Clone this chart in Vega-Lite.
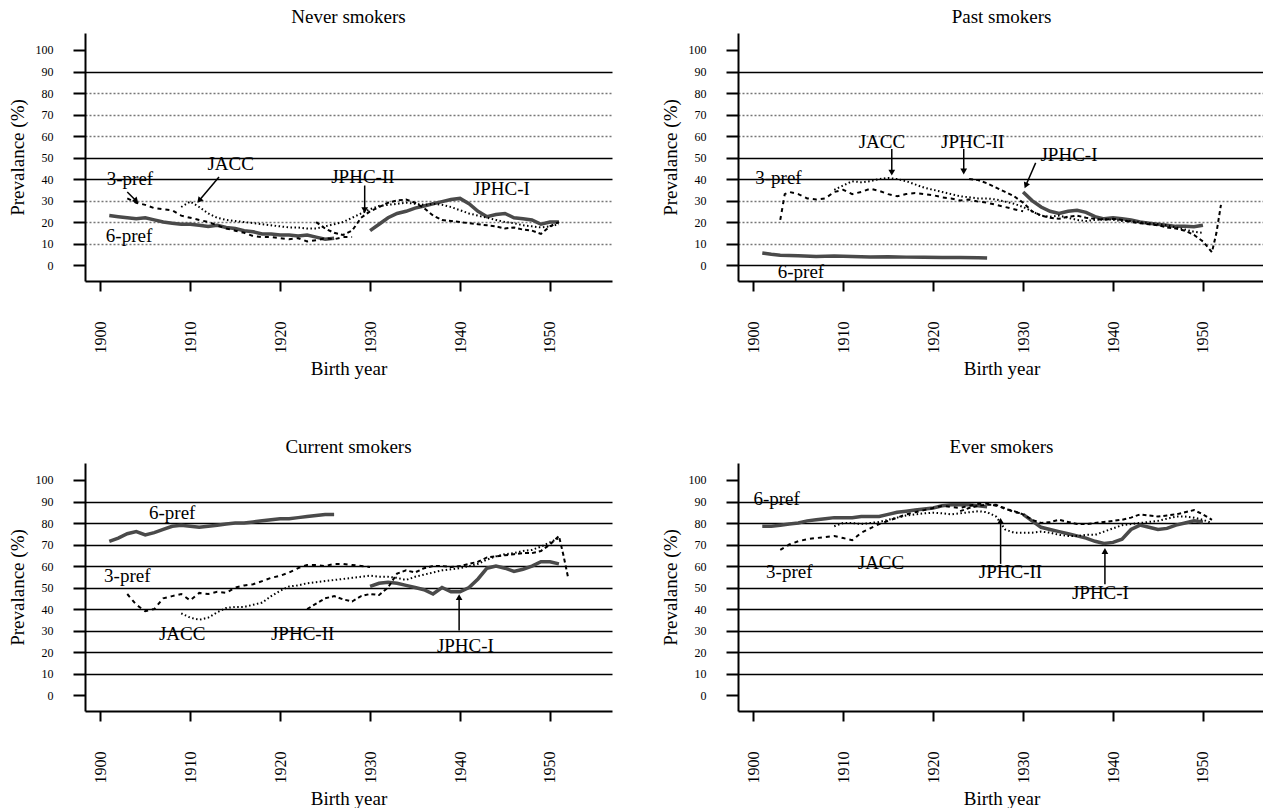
{
"$schema": "https://vega.github.io/schema/vega-lite/v6.json",
"padding": {"left": 8, "top": 8, "right": 0, "bottom": 0},
"background": "white",
"config": {
  "view": {"stroke": null},
  "axis": {"domainColor": "black", "domainWidth": 2, "tickColor": "black", "tickWidth": 2, "labelColor": "black", "titleColor": "black", "labelFont": "Liberation Serif", "titleFont": "Liberation Serif", "titleFontWeight": "normal"},
  "axisX": {"grid": false, "tickSize": 10, "labelAngle": 270, "labelFontSize": 16, "labelPadding": 30, "titleFontSize": 19, "titlePadding": 6, "labelFlush": false},
  "axisY": {"tickSize": 12, "labelFontSize": 12, "labelPadding": 20, "titleFontSize": 19, "titlePadding": 8, "grid": true, "gridColor": "black", "gridWidth": 1.3},
  "title": {"font": "Liberation Serif", "fontSize": 19, "fontWeight": "normal", "color": "black", "anchor": "middle", "offset": 6},
  "text": {"font": "Liberation Serif", "fontSize": 19, "color": "black"}
},
"datasets": {
"series": [
{"p":"N","s":"6-pref","x":1901,"y":23},{"p":"N","s":"6-pref","x":1902,"y":22.5},{"p":"N","s":"6-pref","x":1903,"y":22},{"p":"N","s":"6-pref","x":1904,"y":21.5},{"p":"N","s":"6-pref","x":1905,"y":22},{"p":"N","s":"6-pref","x":1906,"y":21},{"p":"N","s":"6-pref","x":1907,"y":20},{"p":"N","s":"6-pref","x":1908,"y":19.5},{"p":"N","s":"6-pref","x":1909,"y":19},{"p":"N","s":"6-pref","x":1910,"y":19},{"p":"N","s":"6-pref","x":1911,"y":18.5},{"p":"N","s":"6-pref","x":1912,"y":18},{"p":"N","s":"6-pref","x":1913,"y":18.5},{"p":"N","s":"6-pref","x":1914,"y":17.5},{"p":"N","s":"6-pref","x":1915,"y":17},{"p":"N","s":"6-pref","x":1916,"y":16},{"p":"N","s":"6-pref","x":1917,"y":15.5},{"p":"N","s":"6-pref","x":1918,"y":14.5},{"p":"N","s":"6-pref","x":1919,"y":14.5},{"p":"N","s":"6-pref","x":1920,"y":14},{"p":"N","s":"6-pref","x":1921,"y":14},{"p":"N","s":"6-pref","x":1922,"y":13.5},{"p":"N","s":"6-pref","x":1923,"y":14},{"p":"N","s":"6-pref","x":1924,"y":13},{"p":"N","s":"6-pref","x":1925,"y":12},{"p":"N","s":"6-pref","x":1926,"y":12.5},
{"p":"N","s":"3-pref","x":1903,"y":31},{"p":"N","s":"3-pref","x":1904,"y":29},{"p":"N","s":"3-pref","x":1905,"y":28},{"p":"N","s":"3-pref","x":1906,"y":26.5},{"p":"N","s":"3-pref","x":1907,"y":26},{"p":"N","s":"3-pref","x":1908,"y":25.5},{"p":"N","s":"3-pref","x":1909,"y":23},{"p":"N","s":"3-pref","x":1910,"y":22},{"p":"N","s":"3-pref","x":1911,"y":21},{"p":"N","s":"3-pref","x":1912,"y":20},{"p":"N","s":"3-pref","x":1913,"y":18.5},{"p":"N","s":"3-pref","x":1914,"y":17},{"p":"N","s":"3-pref","x":1915,"y":16},{"p":"N","s":"3-pref","x":1916,"y":15},{"p":"N","s":"3-pref","x":1917,"y":13.5},{"p":"N","s":"3-pref","x":1918,"y":13},{"p":"N","s":"3-pref","x":1919,"y":13},{"p":"N","s":"3-pref","x":1920,"y":12.5},{"p":"N","s":"3-pref","x":1921,"y":12},{"p":"N","s":"3-pref","x":1922,"y":12.5},{"p":"N","s":"3-pref","x":1923,"y":11},{"p":"N","s":"3-pref","x":1924,"y":11.5},{"p":"N","s":"3-pref","x":1925,"y":12.5},{"p":"N","s":"3-pref","x":1926,"y":12},{"p":"N","s":"3-pref","x":1927,"y":13},{"p":"N","s":"3-pref","x":1928,"y":13},
{"p":"N","s":"JACC","x":1909,"y":27},{"p":"N","s":"JACC","x":1910,"y":29.5},{"p":"N","s":"JACC","x":1911,"y":27},{"p":"N","s":"JACC","x":1912,"y":24},{"p":"N","s":"JACC","x":1913,"y":22},{"p":"N","s":"JACC","x":1914,"y":21},{"p":"N","s":"JACC","x":1915,"y":20.5},{"p":"N","s":"JACC","x":1916,"y":20},{"p":"N","s":"JACC","x":1917,"y":19.5},{"p":"N","s":"JACC","x":1918,"y":19},{"p":"N","s":"JACC","x":1919,"y":18.5},{"p":"N","s":"JACC","x":1920,"y":18},{"p":"N","s":"JACC","x":1921,"y":17.5},{"p":"N","s":"JACC","x":1922,"y":17.5},{"p":"N","s":"JACC","x":1923,"y":17},{"p":"N","s":"JACC","x":1924,"y":17},{"p":"N","s":"JACC","x":1925,"y":18},{"p":"N","s":"JACC","x":1926,"y":19},{"p":"N","s":"JACC","x":1927,"y":20},{"p":"N","s":"JACC","x":1928,"y":22},{"p":"N","s":"JACC","x":1929,"y":24},{"p":"N","s":"JACC","x":1930,"y":26},{"p":"N","s":"JACC","x":1931,"y":27.5},{"p":"N","s":"JACC","x":1932,"y":28},{"p":"N","s":"JACC","x":1933,"y":28.5},{"p":"N","s":"JACC","x":1934,"y":29},{"p":"N","s":"JACC","x":1935,"y":28.5},{"p":"N","s":"JACC","x":1936,"y":28},{"p":"N","s":"JACC","x":1937,"y":28.5},{"p":"N","s":"JACC","x":1938,"y":28},{"p":"N","s":"JACC","x":1939,"y":27},{"p":"N","s":"JACC","x":1940,"y":25.5},{"p":"N","s":"JACC","x":1941,"y":24},{"p":"N","s":"JACC","x":1942,"y":23},{"p":"N","s":"JACC","x":1943,"y":22},{"p":"N","s":"JACC","x":1944,"y":21},{"p":"N","s":"JACC","x":1945,"y":20},{"p":"N","s":"JACC","x":1946,"y":19.5},{"p":"N","s":"JACC","x":1947,"y":18.5},{"p":"N","s":"JACC","x":1948,"y":18},{"p":"N","s":"JACC","x":1949,"y":17.5},{"p":"N","s":"JACC","x":1950,"y":18},{"p":"N","s":"JACC","x":1951,"y":19},
{"p":"N","s":"JPHC-II","x":1924,"y":20},{"p":"N","s":"JPHC-II","x":1925,"y":17},{"p":"N","s":"JPHC-II","x":1926,"y":15},{"p":"N","s":"JPHC-II","x":1927,"y":14},{"p":"N","s":"JPHC-II","x":1928,"y":16},{"p":"N","s":"JPHC-II","x":1929,"y":22},{"p":"N","s":"JPHC-II","x":1930,"y":25},{"p":"N","s":"JPHC-II","x":1931,"y":27},{"p":"N","s":"JPHC-II","x":1932,"y":29},{"p":"N","s":"JPHC-II","x":1933,"y":30},{"p":"N","s":"JPHC-II","x":1934,"y":30.5},{"p":"N","s":"JPHC-II","x":1935,"y":29},{"p":"N","s":"JPHC-II","x":1936,"y":26.5},{"p":"N","s":"JPHC-II","x":1937,"y":23},{"p":"N","s":"JPHC-II","x":1938,"y":21},{"p":"N","s":"JPHC-II","x":1939,"y":20.5},{"p":"N","s":"JPHC-II","x":1940,"y":20},{"p":"N","s":"JPHC-II","x":1941,"y":19.5},{"p":"N","s":"JPHC-II","x":1942,"y":19},{"p":"N","s":"JPHC-II","x":1943,"y":18.5},{"p":"N","s":"JPHC-II","x":1944,"y":18},{"p":"N","s":"JPHC-II","x":1945,"y":17},{"p":"N","s":"JPHC-II","x":1946,"y":17.5},{"p":"N","s":"JPHC-II","x":1947,"y":16.5},{"p":"N","s":"JPHC-II","x":1948,"y":16},{"p":"N","s":"JPHC-II","x":1949,"y":14.5},{"p":"N","s":"JPHC-II","x":1950,"y":18},{"p":"N","s":"JPHC-II","x":1951,"y":20},
{"p":"N","s":"JPHC-I","x":1930,"y":16},{"p":"N","s":"JPHC-I","x":1931,"y":19},{"p":"N","s":"JPHC-I","x":1932,"y":22},{"p":"N","s":"JPHC-I","x":1933,"y":24},{"p":"N","s":"JPHC-I","x":1934,"y":25},{"p":"N","s":"JPHC-I","x":1935,"y":26.5},{"p":"N","s":"JPHC-I","x":1936,"y":27.5},{"p":"N","s":"JPHC-I","x":1937,"y":28.5},{"p":"N","s":"JPHC-I","x":1938,"y":29.5},{"p":"N","s":"JPHC-I","x":1939,"y":30.5},{"p":"N","s":"JPHC-I","x":1940,"y":31},{"p":"N","s":"JPHC-I","x":1941,"y":28.5},{"p":"N","s":"JPHC-I","x":1942,"y":25},{"p":"N","s":"JPHC-I","x":1943,"y":22.5},{"p":"N","s":"JPHC-I","x":1944,"y":23.5},{"p":"N","s":"JPHC-I","x":1945,"y":24},{"p":"N","s":"JPHC-I","x":1946,"y":22},{"p":"N","s":"JPHC-I","x":1947,"y":21.5},{"p":"N","s":"JPHC-I","x":1948,"y":21},{"p":"N","s":"JPHC-I","x":1949,"y":19},{"p":"N","s":"JPHC-I","x":1950,"y":20},{"p":"N","s":"JPHC-I","x":1951,"y":20},

{"p":"P","s":"6-pref","x":1901,"y":5.6},{"p":"P","s":"6-pref","x":1902,"y":5},{"p":"P","s":"6-pref","x":1903,"y":4.6},{"p":"P","s":"6-pref","x":1904,"y":4.5},{"p":"P","s":"6-pref","x":1905,"y":4.3},{"p":"P","s":"6-pref","x":1907,"y":4},{"p":"P","s":"6-pref","x":1909,"y":4.2},{"p":"P","s":"6-pref","x":1911,"y":4},{"p":"P","s":"6-pref","x":1913,"y":3.8},{"p":"P","s":"6-pref","x":1915,"y":3.9},{"p":"P","s":"6-pref","x":1917,"y":3.7},{"p":"P","s":"6-pref","x":1919,"y":3.6},{"p":"P","s":"6-pref","x":1921,"y":3.5},{"p":"P","s":"6-pref","x":1923,"y":3.5},{"p":"P","s":"6-pref","x":1925,"y":3.4},{"p":"P","s":"6-pref","x":1926,"y":3.3},
{"p":"P","s":"3-pref","x":1903,"y":21},{"p":"P","s":"3-pref","x":1903.5,"y":33},{"p":"P","s":"3-pref","x":1904,"y":34},{"p":"P","s":"3-pref","x":1905,"y":33},{"p":"P","s":"3-pref","x":1906,"y":31},{"p":"P","s":"3-pref","x":1907,"y":30.5},{"p":"P","s":"3-pref","x":1908,"y":31},{"p":"P","s":"3-pref","x":1909,"y":34},{"p":"P","s":"3-pref","x":1910,"y":35},{"p":"P","s":"3-pref","x":1911,"y":33},{"p":"P","s":"3-pref","x":1912,"y":34},{"p":"P","s":"3-pref","x":1913,"y":35.5},{"p":"P","s":"3-pref","x":1914,"y":34.5},{"p":"P","s":"3-pref","x":1915,"y":33},{"p":"P","s":"3-pref","x":1916,"y":32},{"p":"P","s":"3-pref","x":1917,"y":33},{"p":"P","s":"3-pref","x":1918,"y":33.5},{"p":"P","s":"3-pref","x":1919,"y":33},{"p":"P","s":"3-pref","x":1920,"y":32.5},{"p":"P","s":"3-pref","x":1921,"y":31.5},{"p":"P","s":"3-pref","x":1922,"y":31},{"p":"P","s":"3-pref","x":1923,"y":30},{"p":"P","s":"3-pref","x":1924,"y":30.5},{"p":"P","s":"3-pref","x":1925,"y":29.5},{"p":"P","s":"3-pref","x":1926,"y":29},{"p":"P","s":"3-pref","x":1927,"y":28},{"p":"P","s":"3-pref","x":1928,"y":27},{"p":"P","s":"3-pref","x":1929,"y":26},{"p":"P","s":"3-pref","x":1930,"y":25},
{"p":"P","s":"JACC","x":1909,"y":35},{"p":"P","s":"JACC","x":1910,"y":37},{"p":"P","s":"JACC","x":1911,"y":39},{"p":"P","s":"JACC","x":1912,"y":38.5},{"p":"P","s":"JACC","x":1913,"y":39},{"p":"P","s":"JACC","x":1914,"y":40},{"p":"P","s":"JACC","x":1915,"y":40.5},{"p":"P","s":"JACC","x":1916,"y":40},{"p":"P","s":"JACC","x":1917,"y":39},{"p":"P","s":"JACC","x":1918,"y":37.5},{"p":"P","s":"JACC","x":1919,"y":36},{"p":"P","s":"JACC","x":1920,"y":35},{"p":"P","s":"JACC","x":1921,"y":34},{"p":"P","s":"JACC","x":1922,"y":33},{"p":"P","s":"JACC","x":1923,"y":32},{"p":"P","s":"JACC","x":1924,"y":31.5},{"p":"P","s":"JACC","x":1925,"y":31},{"p":"P","s":"JACC","x":1926,"y":31},{"p":"P","s":"JACC","x":1927,"y":30.5},{"p":"P","s":"JACC","x":1928,"y":29.5},{"p":"P","s":"JACC","x":1929,"y":28.5},{"p":"P","s":"JACC","x":1930,"y":27},{"p":"P","s":"JACC","x":1931,"y":25},{"p":"P","s":"JACC","x":1932,"y":23},{"p":"P","s":"JACC","x":1933,"y":22.5},{"p":"P","s":"JACC","x":1934,"y":23},{"p":"P","s":"JACC","x":1935,"y":22},{"p":"P","s":"JACC","x":1936,"y":21},{"p":"P","s":"JACC","x":1937,"y":20.5},{"p":"P","s":"JACC","x":1938,"y":21},{"p":"P","s":"JACC","x":1939,"y":21.5},{"p":"P","s":"JACC","x":1940,"y":21},{"p":"P","s":"JACC","x":1941,"y":20.5},{"p":"P","s":"JACC","x":1942,"y":20.5},{"p":"P","s":"JACC","x":1943,"y":20},{"p":"P","s":"JACC","x":1944,"y":19.5},{"p":"P","s":"JACC","x":1945,"y":19},{"p":"P","s":"JACC","x":1946,"y":18.5},{"p":"P","s":"JACC","x":1947,"y":17.5},{"p":"P","s":"JACC","x":1948,"y":16.5},{"p":"P","s":"JACC","x":1949,"y":15.5},{"p":"P","s":"JACC","x":1950,"y":15},
{"p":"P","s":"JPHC-II","x":1924,"y":40},{"p":"P","s":"JPHC-II","x":1925,"y":39.5},{"p":"P","s":"JPHC-II","x":1926,"y":38},{"p":"P","s":"JPHC-II","x":1927,"y":36},{"p":"P","s":"JPHC-II","x":1928,"y":34},{"p":"P","s":"JPHC-II","x":1929,"y":32},{"p":"P","s":"JPHC-II","x":1930,"y":29},{"p":"P","s":"JPHC-II","x":1931,"y":25},{"p":"P","s":"JPHC-II","x":1932,"y":23},{"p":"P","s":"JPHC-II","x":1933,"y":22},{"p":"P","s":"JPHC-II","x":1934,"y":21.5},{"p":"P","s":"JPHC-II","x":1935,"y":22.5},{"p":"P","s":"JPHC-II","x":1936,"y":23},{"p":"P","s":"JPHC-II","x":1937,"y":22},{"p":"P","s":"JPHC-II","x":1938,"y":21.5},{"p":"P","s":"JPHC-II","x":1939,"y":21},{"p":"P","s":"JPHC-II","x":1940,"y":21.5},{"p":"P","s":"JPHC-II","x":1941,"y":21},{"p":"P","s":"JPHC-II","x":1942,"y":20},{"p":"P","s":"JPHC-II","x":1943,"y":19.5},{"p":"P","s":"JPHC-II","x":1944,"y":19},{"p":"P","s":"JPHC-II","x":1945,"y":18.5},{"p":"P","s":"JPHC-II","x":1946,"y":17.5},{"p":"P","s":"JPHC-II","x":1947,"y":17},{"p":"P","s":"JPHC-II","x":1948,"y":16},{"p":"P","s":"JPHC-II","x":1949,"y":14},{"p":"P","s":"JPHC-II","x":1950,"y":11},{"p":"P","s":"JPHC-II","x":1951,"y":6},{"p":"P","s":"JPHC-II","x":1951.5,"y":15},{"p":"P","s":"JPHC-II","x":1952,"y":28},
{"p":"P","s":"JPHC-I","x":1930,"y":34},{"p":"P","s":"JPHC-I","x":1931,"y":30},{"p":"P","s":"JPHC-I","x":1932,"y":27},{"p":"P","s":"JPHC-I","x":1933,"y":25},{"p":"P","s":"JPHC-I","x":1934,"y":24},{"p":"P","s":"JPHC-I","x":1935,"y":25},{"p":"P","s":"JPHC-I","x":1936,"y":25.5},{"p":"P","s":"JPHC-I","x":1937,"y":24.5},{"p":"P","s":"JPHC-I","x":1938,"y":22.5},{"p":"P","s":"JPHC-I","x":1939,"y":21.5},{"p":"P","s":"JPHC-I","x":1940,"y":22},{"p":"P","s":"JPHC-I","x":1941,"y":21.5},{"p":"P","s":"JPHC-I","x":1942,"y":21},{"p":"P","s":"JPHC-I","x":1943,"y":20},{"p":"P","s":"JPHC-I","x":1944,"y":19.5},{"p":"P","s":"JPHC-I","x":1945,"y":19},{"p":"P","s":"JPHC-I","x":1946,"y":18.5},{"p":"P","s":"JPHC-I","x":1947,"y":18},{"p":"P","s":"JPHC-I","x":1948,"y":18},{"p":"P","s":"JPHC-I","x":1949,"y":17.8},{"p":"P","s":"JPHC-I","x":1950,"y":18.5},

{"p":"C","s":"6-pref","x":1901,"y":71.5},{"p":"C","s":"6-pref","x":1902,"y":73},{"p":"C","s":"6-pref","x":1903,"y":75},{"p":"C","s":"6-pref","x":1904,"y":76},{"p":"C","s":"6-pref","x":1905,"y":74.5},{"p":"C","s":"6-pref","x":1906,"y":75.5},{"p":"C","s":"6-pref","x":1907,"y":77},{"p":"C","s":"6-pref","x":1908,"y":78.5},{"p":"C","s":"6-pref","x":1909,"y":79},{"p":"C","s":"6-pref","x":1910,"y":78.5},{"p":"C","s":"6-pref","x":1911,"y":78},{"p":"C","s":"6-pref","x":1912,"y":78.5},{"p":"C","s":"6-pref","x":1913,"y":79},{"p":"C","s":"6-pref","x":1914,"y":79.5},{"p":"C","s":"6-pref","x":1915,"y":80},{"p":"C","s":"6-pref","x":1916,"y":80},{"p":"C","s":"6-pref","x":1917,"y":80.5},{"p":"C","s":"6-pref","x":1918,"y":81},{"p":"C","s":"6-pref","x":1919,"y":81.5},{"p":"C","s":"6-pref","x":1920,"y":82},{"p":"C","s":"6-pref","x":1921,"y":82},{"p":"C","s":"6-pref","x":1922,"y":82.5},{"p":"C","s":"6-pref","x":1923,"y":83},{"p":"C","s":"6-pref","x":1924,"y":83.5},{"p":"C","s":"6-pref","x":1925,"y":84},{"p":"C","s":"6-pref","x":1926,"y":84},
{"p":"C","s":"3-pref","x":1903,"y":47},{"p":"C","s":"3-pref","x":1904,"y":42},{"p":"C","s":"3-pref","x":1905,"y":39},{"p":"C","s":"3-pref","x":1906,"y":40},{"p":"C","s":"3-pref","x":1907,"y":45},{"p":"C","s":"3-pref","x":1908,"y":46},{"p":"C","s":"3-pref","x":1909,"y":47},{"p":"C","s":"3-pref","x":1910,"y":44},{"p":"C","s":"3-pref","x":1911,"y":47.5},{"p":"C","s":"3-pref","x":1912,"y":47},{"p":"C","s":"3-pref","x":1913,"y":48},{"p":"C","s":"3-pref","x":1914,"y":47.5},{"p":"C","s":"3-pref","x":1915,"y":50},{"p":"C","s":"3-pref","x":1916,"y":51},{"p":"C","s":"3-pref","x":1917,"y":51.5},{"p":"C","s":"3-pref","x":1918,"y":53},{"p":"C","s":"3-pref","x":1919,"y":54.5},{"p":"C","s":"3-pref","x":1920,"y":55.5},{"p":"C","s":"3-pref","x":1921,"y":57},{"p":"C","s":"3-pref","x":1922,"y":59},{"p":"C","s":"3-pref","x":1923,"y":60.5},{"p":"C","s":"3-pref","x":1924,"y":60.5},{"p":"C","s":"3-pref","x":1925,"y":60},{"p":"C","s":"3-pref","x":1926,"y":61},{"p":"C","s":"3-pref","x":1927,"y":61},{"p":"C","s":"3-pref","x":1928,"y":60.5},{"p":"C","s":"3-pref","x":1929,"y":60},{"p":"C","s":"3-pref","x":1930,"y":59.5},
{"p":"C","s":"JACC","x":1909,"y":38},{"p":"C","s":"JACC","x":1910,"y":36},{"p":"C","s":"JACC","x":1911,"y":35},{"p":"C","s":"JACC","x":1912,"y":36},{"p":"C","s":"JACC","x":1913,"y":38.5},{"p":"C","s":"JACC","x":1914,"y":40.5},{"p":"C","s":"JACC","x":1915,"y":41},{"p":"C","s":"JACC","x":1916,"y":41},{"p":"C","s":"JACC","x":1917,"y":42},{"p":"C","s":"JACC","x":1918,"y":43},{"p":"C","s":"JACC","x":1919,"y":46},{"p":"C","s":"JACC","x":1920,"y":48.5},{"p":"C","s":"JACC","x":1921,"y":50.5},{"p":"C","s":"JACC","x":1922,"y":51},{"p":"C","s":"JACC","x":1923,"y":52},{"p":"C","s":"JACC","x":1924,"y":52.5},{"p":"C","s":"JACC","x":1925,"y":53},{"p":"C","s":"JACC","x":1926,"y":53.5},{"p":"C","s":"JACC","x":1927,"y":54},{"p":"C","s":"JACC","x":1928,"y":54.5},{"p":"C","s":"JACC","x":1929,"y":55},{"p":"C","s":"JACC","x":1930,"y":55.5},{"p":"C","s":"JACC","x":1931,"y":55},{"p":"C","s":"JACC","x":1932,"y":55},{"p":"C","s":"JACC","x":1933,"y":54.5},{"p":"C","s":"JACC","x":1934,"y":53.5},{"p":"C","s":"JACC","x":1935,"y":55},{"p":"C","s":"JACC","x":1936,"y":56},{"p":"C","s":"JACC","x":1937,"y":57},{"p":"C","s":"JACC","x":1938,"y":58},{"p":"C","s":"JACC","x":1939,"y":58.5},{"p":"C","s":"JACC","x":1940,"y":59},{"p":"C","s":"JACC","x":1941,"y":60},{"p":"C","s":"JACC","x":1942,"y":61},{"p":"C","s":"JACC","x":1943,"y":63},{"p":"C","s":"JACC","x":1944,"y":64.5},{"p":"C","s":"JACC","x":1945,"y":65.5},{"p":"C","s":"JACC","x":1946,"y":66},{"p":"C","s":"JACC","x":1947,"y":67},{"p":"C","s":"JACC","x":1948,"y":67.5},{"p":"C","s":"JACC","x":1949,"y":69},{"p":"C","s":"JACC","x":1950,"y":71},{"p":"C","s":"JACC","x":1951,"y":73},
{"p":"C","s":"JPHC-II","x":1923,"y":40},{"p":"C","s":"JPHC-II","x":1924,"y":42.5},{"p":"C","s":"JPHC-II","x":1925,"y":45},{"p":"C","s":"JPHC-II","x":1926,"y":46},{"p":"C","s":"JPHC-II","x":1927,"y":44.5},{"p":"C","s":"JPHC-II","x":1928,"y":43.5},{"p":"C","s":"JPHC-II","x":1929,"y":46},{"p":"C","s":"JPHC-II","x":1930,"y":47},{"p":"C","s":"JPHC-II","x":1931,"y":46.5},{"p":"C","s":"JPHC-II","x":1932,"y":50},{"p":"C","s":"JPHC-II","x":1933,"y":56.5},{"p":"C","s":"JPHC-II","x":1934,"y":58},{"p":"C","s":"JPHC-II","x":1935,"y":57},{"p":"C","s":"JPHC-II","x":1936,"y":59},{"p":"C","s":"JPHC-II","x":1937,"y":60},{"p":"C","s":"JPHC-II","x":1938,"y":60},{"p":"C","s":"JPHC-II","x":1939,"y":59.5},{"p":"C","s":"JPHC-II","x":1940,"y":60},{"p":"C","s":"JPHC-II","x":1941,"y":61},{"p":"C","s":"JPHC-II","x":1942,"y":62},{"p":"C","s":"JPHC-II","x":1943,"y":64},{"p":"C","s":"JPHC-II","x":1944,"y":64.5},{"p":"C","s":"JPHC-II","x":1945,"y":65},{"p":"C","s":"JPHC-II","x":1946,"y":65.5},{"p":"C","s":"JPHC-II","x":1947,"y":66},{"p":"C","s":"JPHC-II","x":1948,"y":66},{"p":"C","s":"JPHC-II","x":1949,"y":67},{"p":"C","s":"JPHC-II","x":1950,"y":70},{"p":"C","s":"JPHC-II","x":1951,"y":74},{"p":"C","s":"JPHC-II","x":1951.5,"y":65},{"p":"C","s":"JPHC-II","x":1952,"y":55},
{"p":"C","s":"JPHC-I","x":1930,"y":50.5},{"p":"C","s":"JPHC-I","x":1931,"y":52},{"p":"C","s":"JPHC-I","x":1932,"y":52.5},{"p":"C","s":"JPHC-I","x":1933,"y":52},{"p":"C","s":"JPHC-I","x":1934,"y":51},{"p":"C","s":"JPHC-I","x":1935,"y":50},{"p":"C","s":"JPHC-I","x":1936,"y":49},{"p":"C","s":"JPHC-I","x":1937,"y":47},{"p":"C","s":"JPHC-I","x":1938,"y":50},{"p":"C","s":"JPHC-I","x":1939,"y":48},{"p":"C","s":"JPHC-I","x":1940,"y":48},{"p":"C","s":"JPHC-I","x":1941,"y":50},{"p":"C","s":"JPHC-I","x":1942,"y":54},{"p":"C","s":"JPHC-I","x":1943,"y":59},{"p":"C","s":"JPHC-I","x":1944,"y":60},{"p":"C","s":"JPHC-I","x":1945,"y":59},{"p":"C","s":"JPHC-I","x":1946,"y":57.5},{"p":"C","s":"JPHC-I","x":1947,"y":58.5},{"p":"C","s":"JPHC-I","x":1948,"y":60},{"p":"C","s":"JPHC-I","x":1949,"y":62},{"p":"C","s":"JPHC-I","x":1950,"y":62},{"p":"C","s":"JPHC-I","x":1951,"y":61},

{"p":"E","s":"6-pref","x":1901,"y":78.5},{"p":"E","s":"6-pref","x":1902,"y":78.5},{"p":"E","s":"6-pref","x":1903,"y":79},{"p":"E","s":"6-pref","x":1904,"y":79.5},{"p":"E","s":"6-pref","x":1905,"y":80},{"p":"E","s":"6-pref","x":1906,"y":81},{"p":"E","s":"6-pref","x":1907,"y":81.5},{"p":"E","s":"6-pref","x":1908,"y":82},{"p":"E","s":"6-pref","x":1909,"y":82.5},{"p":"E","s":"6-pref","x":1910,"y":82.5},{"p":"E","s":"6-pref","x":1911,"y":82.5},{"p":"E","s":"6-pref","x":1912,"y":83},{"p":"E","s":"6-pref","x":1913,"y":83},{"p":"E","s":"6-pref","x":1914,"y":83},{"p":"E","s":"6-pref","x":1915,"y":84},{"p":"E","s":"6-pref","x":1916,"y":85},{"p":"E","s":"6-pref","x":1917,"y":85.5},{"p":"E","s":"6-pref","x":1918,"y":86},{"p":"E","s":"6-pref","x":1919,"y":86.5},{"p":"E","s":"6-pref","x":1920,"y":87},{"p":"E","s":"6-pref","x":1921,"y":88},{"p":"E","s":"6-pref","x":1922,"y":88.5},{"p":"E","s":"6-pref","x":1923,"y":88.5},{"p":"E","s":"6-pref","x":1924,"y":88.5},{"p":"E","s":"6-pref","x":1925,"y":88},{"p":"E","s":"6-pref","x":1926,"y":87.5},
{"p":"E","s":"3-pref","x":1903,"y":67.5},{"p":"E","s":"3-pref","x":1904,"y":70},{"p":"E","s":"3-pref","x":1905,"y":71.5},{"p":"E","s":"3-pref","x":1906,"y":72.5},{"p":"E","s":"3-pref","x":1907,"y":73},{"p":"E","s":"3-pref","x":1908,"y":73.5},{"p":"E","s":"3-pref","x":1909,"y":74},{"p":"E","s":"3-pref","x":1910,"y":73},{"p":"E","s":"3-pref","x":1911,"y":72},{"p":"E","s":"3-pref","x":1912,"y":75.5},{"p":"E","s":"3-pref","x":1913,"y":77.5},{"p":"E","s":"3-pref","x":1914,"y":79.5},{"p":"E","s":"3-pref","x":1915,"y":81},{"p":"E","s":"3-pref","x":1916,"y":82.5},{"p":"E","s":"3-pref","x":1917,"y":84},{"p":"E","s":"3-pref","x":1918,"y":85},{"p":"E","s":"3-pref","x":1919,"y":86},{"p":"E","s":"3-pref","x":1920,"y":87},{"p":"E","s":"3-pref","x":1921,"y":88},{"p":"E","s":"3-pref","x":1922,"y":87.5},{"p":"E","s":"3-pref","x":1923,"y":87},{"p":"E","s":"3-pref","x":1924,"y":88},{"p":"E","s":"3-pref","x":1925,"y":89},{"p":"E","s":"3-pref","x":1926,"y":89},{"p":"E","s":"3-pref","x":1927,"y":88},{"p":"E","s":"3-pref","x":1928,"y":87},{"p":"E","s":"3-pref","x":1929,"y":85},{"p":"E","s":"3-pref","x":1930,"y":84.5},
{"p":"E","s":"JACC","x":1909,"y":78.5},{"p":"E","s":"JACC","x":1910,"y":80},{"p":"E","s":"JACC","x":1911,"y":80},{"p":"E","s":"JACC","x":1912,"y":79.5},{"p":"E","s":"JACC","x":1913,"y":80},{"p":"E","s":"JACC","x":1914,"y":80.5},{"p":"E","s":"JACC","x":1915,"y":81.5},{"p":"E","s":"JACC","x":1916,"y":82.5},{"p":"E","s":"JACC","x":1917,"y":83.5},{"p":"E","s":"JACC","x":1918,"y":84},{"p":"E","s":"JACC","x":1919,"y":84.5},{"p":"E","s":"JACC","x":1920,"y":84.8},{"p":"E","s":"JACC","x":1921,"y":84.5},{"p":"E","s":"JACC","x":1922,"y":84},{"p":"E","s":"JACC","x":1923,"y":84.5},{"p":"E","s":"JACC","x":1924,"y":85},{"p":"E","s":"JACC","x":1925,"y":85.5},{"p":"E","s":"JACC","x":1926,"y":85},{"p":"E","s":"JACC","x":1927,"y":83},{"p":"E","s":"JACC","x":1928,"y":77},{"p":"E","s":"JACC","x":1929,"y":75.5},{"p":"E","s":"JACC","x":1930,"y":75.5},{"p":"E","s":"JACC","x":1931,"y":75.5},{"p":"E","s":"JACC","x":1932,"y":76},{"p":"E","s":"JACC","x":1933,"y":75.5},{"p":"E","s":"JACC","x":1934,"y":74.5},{"p":"E","s":"JACC","x":1935,"y":74},{"p":"E","s":"JACC","x":1936,"y":74},{"p":"E","s":"JACC","x":1937,"y":74.5},{"p":"E","s":"JACC","x":1938,"y":74.5},{"p":"E","s":"JACC","x":1939,"y":76},{"p":"E","s":"JACC","x":1940,"y":77.5},{"p":"E","s":"JACC","x":1941,"y":79},{"p":"E","s":"JACC","x":1942,"y":79.5},{"p":"E","s":"JACC","x":1943,"y":80},{"p":"E","s":"JACC","x":1944,"y":80.5},{"p":"E","s":"JACC","x":1945,"y":81},{"p":"E","s":"JACC","x":1946,"y":82},{"p":"E","s":"JACC","x":1947,"y":83},{"p":"E","s":"JACC","x":1948,"y":83},{"p":"E","s":"JACC","x":1949,"y":82.5},{"p":"E","s":"JACC","x":1950,"y":81.5},{"p":"E","s":"JACC","x":1951,"y":80},
{"p":"E","s":"JPHC-II","x":1923,"y":85.5},{"p":"E","s":"JPHC-II","x":1924,"y":87},{"p":"E","s":"JPHC-II","x":1925,"y":88},{"p":"E","s":"JPHC-II","x":1926,"y":88.5},{"p":"E","s":"JPHC-II","x":1927,"y":88.5},{"p":"E","s":"JPHC-II","x":1928,"y":86.5},{"p":"E","s":"JPHC-II","x":1929,"y":85.5},{"p":"E","s":"JPHC-II","x":1930,"y":84},{"p":"E","s":"JPHC-II","x":1931,"y":81.5},{"p":"E","s":"JPHC-II","x":1932,"y":80},{"p":"E","s":"JPHC-II","x":1933,"y":80.5},{"p":"E","s":"JPHC-II","x":1934,"y":81.5},{"p":"E","s":"JPHC-II","x":1935,"y":80.5},{"p":"E","s":"JPHC-II","x":1936,"y":79.5},{"p":"E","s":"JPHC-II","x":1937,"y":79.5},{"p":"E","s":"JPHC-II","x":1938,"y":80},{"p":"E","s":"JPHC-II","x":1939,"y":80.5},{"p":"E","s":"JPHC-II","x":1940,"y":81},{"p":"E","s":"JPHC-II","x":1941,"y":81.5},{"p":"E","s":"JPHC-II","x":1942,"y":82.5},{"p":"E","s":"JPHC-II","x":1943,"y":84},{"p":"E","s":"JPHC-II","x":1944,"y":83.5},{"p":"E","s":"JPHC-II","x":1945,"y":83},{"p":"E","s":"JPHC-II","x":1946,"y":83.5},{"p":"E","s":"JPHC-II","x":1947,"y":84},{"p":"E","s":"JPHC-II","x":1948,"y":85},{"p":"E","s":"JPHC-II","x":1949,"y":86},{"p":"E","s":"JPHC-II","x":1950,"y":84},{"p":"E","s":"JPHC-II","x":1951,"y":81.5},
{"p":"E","s":"JPHC-I","x":1930,"y":84},{"p":"E","s":"JPHC-I","x":1931,"y":81},{"p":"E","s":"JPHC-I","x":1932,"y":78},{"p":"E","s":"JPHC-I","x":1933,"y":77},{"p":"E","s":"JPHC-I","x":1934,"y":76},{"p":"E","s":"JPHC-I","x":1935,"y":75},{"p":"E","s":"JPHC-I","x":1936,"y":74},{"p":"E","s":"JPHC-I","x":1937,"y":73},{"p":"E","s":"JPHC-I","x":1938,"y":71.5},{"p":"E","s":"JPHC-I","x":1939,"y":70.5},{"p":"E","s":"JPHC-I","x":1940,"y":71},{"p":"E","s":"JPHC-I","x":1941,"y":72.5},{"p":"E","s":"JPHC-I","x":1942,"y":77},{"p":"E","s":"JPHC-I","x":1943,"y":79},{"p":"E","s":"JPHC-I","x":1944,"y":78},{"p":"E","s":"JPHC-I","x":1945,"y":77},{"p":"E","s":"JPHC-I","x":1946,"y":77.5},{"p":"E","s":"JPHC-I","x":1947,"y":79},{"p":"E","s":"JPHC-I","x":1948,"y":80},{"p":"E","s":"JPHC-I","x":1949,"y":81},{"p":"E","s":"JPHC-I","x":1950,"y":80.5}
],
"notes": [
{"p":"N","t":"3-pref","x":1903.3,"y":40},{"p":"N","t":"6-pref","x":1903.2,"y":13.5},{"p":"N","t":"JACC","x":1914.5,"y":47},{"p":"N","t":"JPHC-II","x":1929.2,"y":41},{"p":"N","t":"JPHC-I","x":1944.6,"y":35.5},
{"p":"P","t":"3-pref","x":1902.8,"y":40.5},{"p":"P","t":"6-pref","x":1905.3,"y":-3.3},{"p":"P","t":"JACC","x":1914.3,"y":57},{"p":"P","t":"JPHC-II","x":1924.4,"y":57},{"p":"P","t":"JPHC-I","x":1935.1,"y":51},
{"p":"C","t":"6-pref","x":1908,"y":84.5},{"p":"C","t":"3-pref","x":1903,"y":55.5},{"p":"C","t":"JACC","x":1909.1,"y":28.5},{"p":"C","t":"JPHC-II","x":1922.5,"y":28.5},{"p":"C","t":"JPHC-I","x":1940.6,"y":23},
{"p":"E","t":"6-pref","x":1902.6,"y":91},{"p":"E","t":"3-pref","x":1904,"y":57},{"p":"E","t":"JACC","x":1914.2,"y":61.5},{"p":"E","t":"JPHC-II","x":1928.6,"y":57},{"p":"E","t":"JPHC-I","x":1938.6,"y":47.5}
],
"arrows": [
{"p":"N","x":1904,"y":29.8,"x2":1903,"y2":34},{"p":"N","x":1911,"y":30,"x2":1913.2,"y2":41},{"p":"N","x":1929.4,"y":25.5,"x2":1929.4,"y2":37},
{"p":"P","x":1915.4,"y":43,"x2":1915.4,"y2":54},{"p":"P","x":1923.4,"y":43.5,"x2":1923.4,"y2":54},{"p":"P","x":1930.3,"y":37,"x2":1931.4,"y2":47.5},
{"p":"C","x":1939.9,"y":45.5,"x2":1939.9,"y2":30},
{"p":"E","x":1927.5,"y":81,"x2":1927.5,"y2":61},{"p":"E","x":1939.1,"y":67,"x2":1939.1,"y2":51.5}
]
},
"columns": 2,
"spacing": {"row": 60, "column": 49},
"concat": [
{
 "width": 527, "height": 248,
 "title": "Never smokers",
 "encoding": {
  "x": {"field": "x", "type": "quantitative", "scale": {"domain": [1898.3, 1956.9], "nice": false, "zero": false}, "axis": {"title": "Birth year", "values": [1900, 1910, 1920, 1930, 1940, 1950], "format": "d"}},
  "y": {"field": "y", "type": "quantitative", "scale": {"domain": [-7.4, 107.9], "nice": false, "zero": false}, "axis": {"title": "Prevalance (%)", "values": [0, 10, 20, 30, 40, 50, 60, 70, 80, 90, 100],
    "gridOpacity": {"condition": {"test": "datum.value >= 100 || datum.value <= 0", "value": 0}, "value": 1},
    "gridDash": {"condition": {"test": "datum.value <= 30 || (datum.value >= 60 && datum.value <= 80)", "value": [2, 2]}, "value": []},
    "gridColor": {"condition": {"test": "datum.value <= 30 || (datum.value >= 60 && datum.value <= 80)", "value": "#777777"}, "value": "black"}}}
 },
 "layer": [
  {"data": {"name": "series"}, "transform": [{"filter": "datum.p === 'N' && (datum.s === '6-pref' || datum.s === 'JPHC-I')"}], "mark": {"type": "line", "color": "#4a4a4a", "strokeWidth": 3.5}, "encoding": {"detail": {"field": "s"}}},
  {"data": {"name": "series"}, "transform": [{"filter": "datum.p === 'N' && datum.s !== '6-pref' && datum.s !== 'JPHC-I'"}], "mark": {"type": "line", "color": "black", "strokeWidth": 2}, "encoding": {"strokeDash": {"field": "s", "type": "nominal", "scale": {"domain": ["3-pref", "JACC", "JPHC-II"], "range": [[4, 4], [1.5, 2.5], [4, 3]]}, "legend": null}}},
  {"data": {"name": "arrows"}, "transform": [{"filter": "datum.p === 'N'"}], "mark": {"type": "rule", "color": "black", "strokeWidth": 1.5}, "encoding": {"x2": {"field": "x2"}, "y2": {"field": "y2"}}},
  {"data": {"name": "arrows"}, "transform": [{"filter": "datum.p === 'N'"}, {"calculate": "atan2((datum.x - datum.x2) * 9, (datum.y - datum.y2) * 2.15) * 180 / PI", "as": "ang"}], "mark": {"type": "point", "shape": "triangle-up", "filled": true, "color": "black", "size": 45, "opacity": 1}, "encoding": {"angle": {"field": "ang", "type": "quantitative", "scale": null}}},
  {"data": {"name": "notes"}, "transform": [{"filter": "datum.p === 'N'"}], "mark": {"type": "text", "align": "center", "baseline": "middle"}, "encoding": {"text": {"field": "t"}}}
 ]
},
{
 "width": 527, "height": 248,
 "title": "Past smokers",
 "encoding": {
  "x": {"field": "x", "type": "quantitative", "scale": {"domain": [1898.3, 1956.9], "nice": false, "zero": false}, "axis": {"title": "Birth year", "values": [1900, 1910, 1920, 1930, 1940, 1950], "format": "d"}},
  "y": {"field": "y", "type": "quantitative", "scale": {"domain": [-7.4, 107.9], "nice": false, "zero": false}, "axis": {"title": "Prevalance (%)", "values": [0, 10, 20, 30, 40, 50, 60, 70, 80, 90, 100],
    "gridOpacity": {"condition": {"test": "datum.value >= 100", "value": 0}, "value": 1},
    "gridDash": {"condition": {"test": "(datum.value > 0 && datum.value <= 30) || (datum.value >= 60 && datum.value <= 80)", "value": [2, 2]}, "value": []},
    "gridColor": {"condition": {"test": "(datum.value > 0 && datum.value <= 30) || (datum.value >= 60 && datum.value <= 80)", "value": "#777777"}, "value": "black"}}}
 },
 "layer": [
  {"data": {"name": "series"}, "transform": [{"filter": "datum.p === 'P' && (datum.s === '6-pref' || datum.s === 'JPHC-I')"}], "mark": {"type": "line", "color": "#4a4a4a", "strokeWidth": 3.5}, "encoding": {"detail": {"field": "s"}}},
  {"data": {"name": "series"}, "transform": [{"filter": "datum.p === 'P' && datum.s !== '6-pref' && datum.s !== 'JPHC-I'"}], "mark": {"type": "line", "color": "black", "strokeWidth": 2}, "encoding": {"strokeDash": {"field": "s", "type": "nominal", "scale": {"domain": ["3-pref", "JACC", "JPHC-II"], "range": [[4, 4], [1.5, 2.5], [4, 3]]}, "legend": null}}},
  {"data": {"name": "arrows"}, "transform": [{"filter": "datum.p === 'P'"}], "mark": {"type": "rule", "color": "black", "strokeWidth": 1.5}, "encoding": {"x2": {"field": "x2"}, "y2": {"field": "y2"}}},
  {"data": {"name": "arrows"}, "transform": [{"filter": "datum.p === 'P'"}, {"calculate": "atan2((datum.x - datum.x2) * 9, (datum.y - datum.y2) * 2.15) * 180 / PI", "as": "ang"}], "mark": {"type": "point", "shape": "triangle-up", "filled": true, "color": "black", "size": 45, "opacity": 1}, "encoding": {"angle": {"field": "ang", "type": "quantitative", "scale": null}}},
  {"data": {"name": "notes"}, "transform": [{"filter": "datum.p === 'P'"}], "mark": {"type": "text", "align": "center", "baseline": "middle"}, "encoding": {"text": {"field": "t"}}}
 ]
},
{
 "width": 527, "height": 248,
 "title": "Current smokers",
 "encoding": {
  "x": {"field": "x", "type": "quantitative", "scale": {"domain": [1898.3, 1956.9], "nice": false, "zero": false}, "axis": {"title": "Birth year", "values": [1900, 1910, 1920, 1930, 1940, 1950], "format": "d"}},
  "y": {"field": "y", "type": "quantitative", "scale": {"domain": [-7.4, 107.9], "nice": false, "zero": false}, "axis": {"title": "Prevalance (%)", "values": [0, 10, 20, 30, 40, 50, 60, 70, 80, 90, 100],
    "gridOpacity": {"condition": {"test": "datum.value >= 100 || datum.value <= 0", "value": 0}, "value": 1}}}
 },
 "layer": [
  {"data": {"name": "series"}, "transform": [{"filter": "datum.p === 'C' && (datum.s === '6-pref' || datum.s === 'JPHC-I')"}], "mark": {"type": "line", "color": "#4a4a4a", "strokeWidth": 3.5}, "encoding": {"detail": {"field": "s"}}},
  {"data": {"name": "series"}, "transform": [{"filter": "datum.p === 'C' && datum.s !== '6-pref' && datum.s !== 'JPHC-I'"}], "mark": {"type": "line", "color": "black", "strokeWidth": 2}, "encoding": {"strokeDash": {"field": "s", "type": "nominal", "scale": {"domain": ["3-pref", "JACC", "JPHC-II"], "range": [[4, 4], [1.5, 2.5], [4, 3]]}, "legend": null}}},
  {"data": {"name": "arrows"}, "transform": [{"filter": "datum.p === 'C'"}], "mark": {"type": "rule", "color": "black", "strokeWidth": 1.5}, "encoding": {"x2": {"field": "x2"}, "y2": {"field": "y2"}}},
  {"data": {"name": "arrows"}, "transform": [{"filter": "datum.p === 'C'"}, {"calculate": "atan2((datum.x - datum.x2) * 9, (datum.y - datum.y2) * 2.15) * 180 / PI", "as": "ang"}], "mark": {"type": "point", "shape": "triangle-up", "filled": true, "color": "black", "size": 45, "opacity": 1}, "encoding": {"angle": {"field": "ang", "type": "quantitative", "scale": null}}},
  {"data": {"name": "notes"}, "transform": [{"filter": "datum.p === 'C'"}], "mark": {"type": "text", "align": "center", "baseline": "middle"}, "encoding": {"text": {"field": "t"}}}
 ]
},
{
 "width": 527, "height": 248,
 "title": "Ever smokers",
 "encoding": {
  "x": {"field": "x", "type": "quantitative", "scale": {"domain": [1898.3, 1956.9], "nice": false, "zero": false}, "axis": {"title": "Birth year", "values": [1900, 1910, 1920, 1930, 1940, 1950], "format": "d"}},
  "y": {"field": "y", "type": "quantitative", "scale": {"domain": [-7.4, 107.9], "nice": false, "zero": false}, "axis": {"title": "Prevalance (%)", "values": [0, 10, 20, 30, 40, 50, 60, 70, 80, 90, 100],
    "gridOpacity": {"condition": {"test": "datum.value >= 100 || datum.value <= 0", "value": 0}, "value": 1}}}
 },
 "layer": [
  {"data": {"name": "series"}, "transform": [{"filter": "datum.p === 'E' && (datum.s === '6-pref' || datum.s === 'JPHC-I')"}], "mark": {"type": "line", "color": "#4a4a4a", "strokeWidth": 3.5}, "encoding": {"detail": {"field": "s"}}},
  {"data": {"name": "series"}, "transform": [{"filter": "datum.p === 'E' && datum.s !== '6-pref' && datum.s !== 'JPHC-I'"}], "mark": {"type": "line", "color": "black", "strokeWidth": 2}, "encoding": {"strokeDash": {"field": "s", "type": "nominal", "scale": {"domain": ["3-pref", "JACC", "JPHC-II"], "range": [[4, 4], [1.5, 2.5], [4, 3]]}, "legend": null}}},
  {"data": {"name": "arrows"}, "transform": [{"filter": "datum.p === 'E'"}], "mark": {"type": "rule", "color": "black", "strokeWidth": 1.5}, "encoding": {"x2": {"field": "x2"}, "y2": {"field": "y2"}}},
  {"data": {"name": "arrows"}, "transform": [{"filter": "datum.p === 'E'"}, {"calculate": "atan2((datum.x - datum.x2) * 9, (datum.y - datum.y2) * 2.15) * 180 / PI", "as": "ang"}], "mark": {"type": "point", "shape": "triangle-up", "filled": true, "color": "black", "size": 45, "opacity": 1}, "encoding": {"angle": {"field": "ang", "type": "quantitative", "scale": null}}},
  {"data": {"name": "notes"}, "transform": [{"filter": "datum.p === 'E'"}], "mark": {"type": "text", "align": "center", "baseline": "middle"}, "encoding": {"text": {"field": "t"}}}
 ]
}
]
}
